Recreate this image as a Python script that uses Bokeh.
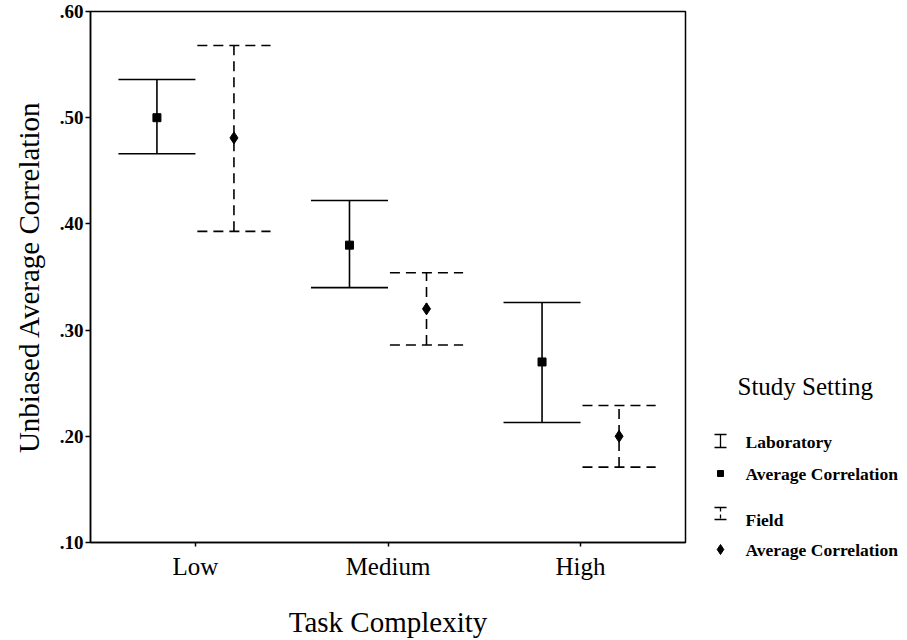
from bokeh.plotting import figure
from bokeh.models import ColumnDataSource, Range1d, FixedTicker
from bokeh.layouts import row
from bokeh.embed import file_html
from bokeh.resources import INLINE
from bokeh.core.properties import value

# ---------------- data ----------------
categories = ["Low", "Medium", "High"]
lab_mean = [0.500, 0.380, 0.270]
lab_lower = [0.466, 0.340, 0.213]
lab_upper = [0.536, 0.422, 0.326]
field_mean = [0.481, 0.320, 0.200]
field_lower = [0.393, 0.286, 0.171]
field_upper = [0.568, 0.354, 0.229]
y_ticks = [0.10, 0.20, 0.30, 0.40, 0.50, 0.60]
y_tick_labels = [".10", ".20", ".30", ".40", ".50", ".60"]
x_title = "Task Complexity"
y_title = "Unbiased Average Correlation"
legend_title = "Study Setting"
legend_labels = ["Laboratory", "Average Correlation", "Field", "Average Correlation"]

FONT = "Liberation Serif"
pos = [i + 1 for i in range(len(categories))]

# ---------------- main plot ----------------
p = figure(frame_width=595, frame_height=531,
           x_range=Range1d(0.455, 3.545), y_range=Range1d(0.10, 0.60),
           output_backend="svg", toolbar_location=None,
           min_border_left=90, min_border_top=11, min_border_right=10,
           min_border_bottom=10, background_fill_color="white",
           border_fill_color="white", align="start")

LAB_OFF, LAB_HALF = -0.2, 0.2
FLD_OFF, FLD_HALF = 0.2, 0.19

lab_x = [x + LAB_OFF for x in pos]
fld_x = [x + FLD_OFF for x in pos]

lab_src = ColumnDataSource(dict(
    x=lab_x, lo=lab_lower, hi=lab_upper, m=lab_mean,
    x0=[x - LAB_HALF for x in lab_x], x1=[x + LAB_HALF for x in lab_x]))
fld_src = ColumnDataSource(dict(
    x=fld_x, lo=field_lower, hi=field_upper, m=field_mean,
    x0=[x - FLD_HALF for x in fld_x], x1=[x + FLD_HALF for x in fld_x]))

LW = 1.6
# laboratory (solid)
p.segment(x0="x", y0="lo", x1="x", y1="hi", source=lab_src, line_color="black", line_width=LW)
p.segment(x0="x0", y0="hi", x1="x1", y1="hi", source=lab_src, line_color="black", line_width=LW)
p.segment(x0="x0", y0="lo", x1="x1", y1="lo", source=lab_src, line_color="black", line_width=LW)
p.scatter(x="x", y="m", source=lab_src, marker="square", size=8, fill_color="black", line_color="black")

# field (dashed)
DASH = "10 6"
p.segment(x0="x", y0="lo", x1="x", y1="hi", source=fld_src, line_color="black", line_width=LW, line_dash=DASH)
p.segment(x0="x0", y0="hi", x1="x1", y1="hi", source=fld_src, line_color="black", line_width=LW, line_dash=DASH)
p.segment(x0="x0", y0="lo", x1="x1", y1="lo", source=fld_src, line_color="black", line_width=LW, line_dash=DASH)
p.scatter(x="x", y="m", source=fld_src, marker="diamond", size=12, fill_color="black", line_color="black")

p.xgrid.visible = False
p.ygrid.visible = False
p.outline_line_color = "black"
p.outline_line_width = 1.5
p.outline_line_alpha = 1.0

p.xaxis.ticker = FixedTicker(ticks=pos)
p.xaxis.major_label_overrides = {k: v for k, v in zip(pos, categories)}
p.yaxis.ticker = FixedTicker(ticks=y_ticks)
p.yaxis.major_label_overrides = {k: v for k, v in zip(y_ticks, y_tick_labels)}
p.xaxis.axis_label = x_title
p.yaxis.axis_label = y_title

for ax in (p.xaxis[0], p.yaxis[0]):
    ax.axis_line_color = "black"
    ax.axis_line_width = 1.5
    ax.major_tick_line_color = "black"
    ax.major_tick_line_width = 1.5
    ax.minor_tick_line_color = None
    ax.major_tick_in = 0
    ax.axis_label_text_font = FONT
    ax.axis_label_text_font_style = "normal"
    ax.axis_label_text_font_size = "29px"
    ax.axis_label_text_color = "black"
    ax.major_label_text_font = FONT
    ax.major_label_text_color = "black"

p.xaxis.major_tick_out = 4
p.xaxis.major_label_text_font_size = "25px"
p.xaxis.major_label_standoff = 6
p.xaxis.axis_label_standoff = 23
p.yaxis.major_tick_out = 5
p.yaxis.major_label_text_font_size = "19px"
p.yaxis.major_label_text_font_style = "bold"
p.yaxis.major_label_standoff = 2
p.yaxis.axis_label_standoff = 12

# ---------------- legend panel ----------------
LH = 600
LW_PANEL = 210
lg = figure(frame_width=LW_PANEL, frame_height=LH,
            x_range=Range1d(0, LW_PANEL), y_range=Range1d(LH, 0),
            output_backend="svg", toolbar_location=None,
            x_axis_location=None, y_axis_location=None, min_border=0,
            background_fill_color="white", border_fill_color="white",
            align="start")
lg.xgrid.visible = False
lg.ygrid.visible = False
lg.outline_line_color = None

sym_x = 25
text_x = 50
title_x = 42
title_y = 375
row_y = [430, 462, 508, 538]

lg.text(x=[title_x], y=[title_y], text=[legend_title], text_font=value(FONT),
        text_font_size="25px", text_baseline="middle", text_align="left", text_color="black")
lg.text(x=[text_x] * 4, y=row_y, text=legend_labels, text_font=value(FONT),
        text_font_size="17.5px", text_font_style="bold", text_baseline="middle",
        text_align="left", text_color="black")

# laboratory key (solid I-beam)
ly0, ly1 = row_y[0] - 7, row_y[0] + 6
lg.segment(x0=[sym_x, sym_x - 6, sym_x - 6], y0=[ly0, ly0, ly1],
           x1=[sym_x, sym_x + 6, sym_x + 6], y1=[ly1, ly0, ly1],
           line_color="black", line_width=1.3)
lg.scatter(x=[sym_x], y=[row_y[1]], marker="square", size=6, fill_color="black", line_color="black")
# field key (dashed I-beam)
fy0, fy1 = row_y[2] - 12, row_y[2]
lg.segment(x0=[sym_x - 6, sym_x - 6], y0=[fy0, fy1],
           x1=[sym_x + 6, sym_x + 6], y1=[fy0, fy1],
           line_color="black", line_width=1.3)
lg.segment(x0=[sym_x], y0=[fy0], x1=[sym_x], y1=[fy1],
           line_color="black", line_width=1.3, line_dash="4 3")
lg.scatter(x=[sym_x], y=[row_y[3]], marker="diamond", size=10, fill_color="black", line_color="black")

layout = row(p, lg)
open("out.html", "w").write(file_html(layout, INLINE))
